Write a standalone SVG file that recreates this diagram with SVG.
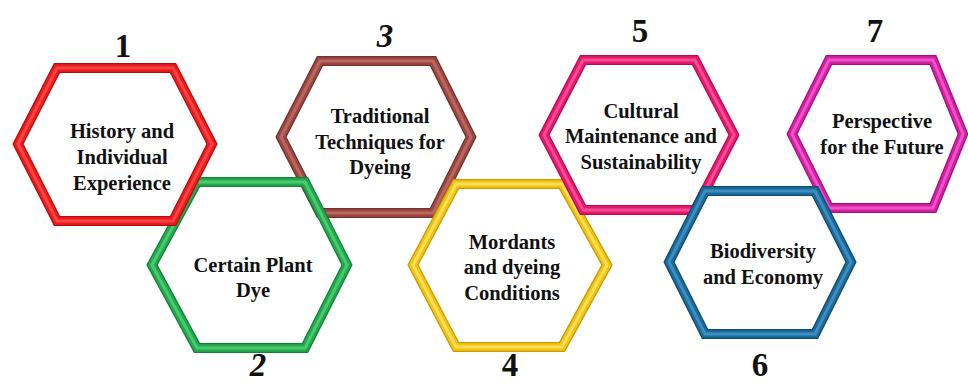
<svg xmlns="http://www.w3.org/2000/svg" xmlns:xlink="http://www.w3.org/1999/xlink" width="968" height="385" viewBox="0 0 968 385">
  <style>
    .edge { fill: none; stroke-width: 10; stroke-linejoin: miter; }
    .body { fill: none; stroke-width: 7.5; stroke-linejoin: miter; }
    .shine { fill: none; stroke-width: 3; stroke-linejoin: miter; stroke-opacity: 0.55; }
    .label { font-family: "Liberation Serif", "Times New Roman", serif; font-weight: bold; font-size: 20.5px; fill: #111; text-anchor: middle; }
    .num { font-family: "Liberation Serif", "Times New Roman", serif; font-weight: bold; font-size: 33px; fill: #111; text-anchor: middle; }
    .num.it { font-style: italic; }
    .red .edge { stroke: #b80d0f; } .red .body { stroke: #ec1c1e; } .red .shine { stroke: #ff6660; }
    .green .edge { stroke: #128236; } .green .body { stroke: #22aa4c; } .green .shine { stroke: #6ee090; }
    .brown .edge { stroke: #74302c; } .brown .body { stroke: #9d4743; } .brown .shine { stroke: #d08078; }
    .yellow .edge { stroke: #c99b00; } .yellow .body { stroke: #f1c40f; } .yellow .shine { stroke: #fff49a; }
    .pink .edge { stroke: #b80c52; } .pink .body { stroke: #e8186f; } .pink .shine { stroke: #ff7ab2; }
    .blue .edge { stroke: #0e4c72; } .blue .body { stroke: #1b6b9b; } .blue .shine { stroke: #5aaadb; }
    .magenta .edge { stroke: #a4117f; } .magenta .body { stroke: #d51fa6; } .magenta .shine { stroke: #ff80e0; }
  </style>
  <defs>
    <polygon id="hex1" points="18,144 57,68 173,68 212,144 173,221 57,221"/>
    <polygon id="hex2" points="152,265 197,182 305,182 347,265 305,348 197,348"/>
    <polygon id="hex3" points="281,137 320,61 433,61 471,137 433,213 320,213"/>
    <polygon id="hex4" points="413,265 456,184 562,184 607,265 562,347 456,347"/>
    <polygon id="hex5" points="544,135 583,60 695,60 734,135 695,210 583,210"/>
    <polygon id="hex6" points="669,262 705,191 815,191 851,262 815,334 705,334"/>
    <polygon id="hex7" points="792,134 829,60 933,60 963,134 933,208 829,208"/>
  </defs>
  <rect width="968" height="385" fill="#ffffff"/>

  <!-- hexagons, stacked so that each ring overlaps its neighbour -->
  <g id="node3" class="brown">
    <use xlink:href="#hex3" class="edge"/><use xlink:href="#hex3" class="body"/><use xlink:href="#hex3" class="shine"/>
  </g>
  <g id="node2" class="green">
    <use xlink:href="#hex2" class="edge"/><use xlink:href="#hex2" class="body"/><use xlink:href="#hex2" class="shine"/>
  </g>
  <g id="node1" class="red">
    <use xlink:href="#hex1" class="edge"/><use xlink:href="#hex1" class="body"/><use xlink:href="#hex1" class="shine"/>
  </g>
  <g id="node4" class="yellow">
    <use xlink:href="#hex4" class="edge"/><use xlink:href="#hex4" class="body"/><use xlink:href="#hex4" class="shine"/>
  </g>
  <g id="node5" class="pink">
    <use xlink:href="#hex5" class="edge"/><use xlink:href="#hex5" class="body"/><use xlink:href="#hex5" class="shine"/>
  </g>
  <g id="node7" class="magenta">
    <use xlink:href="#hex7" class="edge"/><use xlink:href="#hex7" class="body"/><use xlink:href="#hex7" class="shine"/>
  </g>
  <g id="node6" class="blue">
    <use xlink:href="#hex6" class="edge"/><use xlink:href="#hex6" class="body"/><use xlink:href="#hex6" class="shine"/>
  </g>

  <!-- labels and step numbers -->
  <g id="labels">
    <text class="num" x="123" y="57">1</text>
    <text class="label" x="122" y="138">History and</text>
    <text class="label" x="122" y="164">Individual</text>
    <text class="label" x="122" y="190">Experience</text>

    <text class="num it" x="258" y="376">2</text>
    <text class="label" x="253" y="272">Certain Plant</text>
    <text class="label" x="253" y="297">Dye</text>

    <text class="num it" x="385" y="47">3</text>
    <text class="label" x="380" y="123">Traditional</text>
    <text class="label" x="380" y="149">Techniques for</text>
    <text class="label" x="380" y="174">Dyeing</text>

    <text class="num" x="510" y="376">4</text>
    <text class="label" x="512" y="249">Mordants</text>
    <text class="label" x="512" y="274">and dyeing</text>
    <text class="label" x="512" y="300">Conditions</text>

    <text class="num" x="640" y="42">5</text>
    <text class="label" x="641" y="118">Cultural</text>
    <text class="label" x="641" y="143">Maintenance and</text>
    <text class="label" x="641" y="169">Sustainability</text>

    <text class="num" x="760" y="376">6</text>
    <text class="label" x="763" y="258">Biodiversity</text>
    <text class="label" x="763" y="284">and Economy</text>

    <text class="num" x="875" y="42">7</text>
    <text class="label" x="882" y="128">Perspective</text>
    <text class="label" x="882" y="154">for the Future</text>
  </g>
</svg>
